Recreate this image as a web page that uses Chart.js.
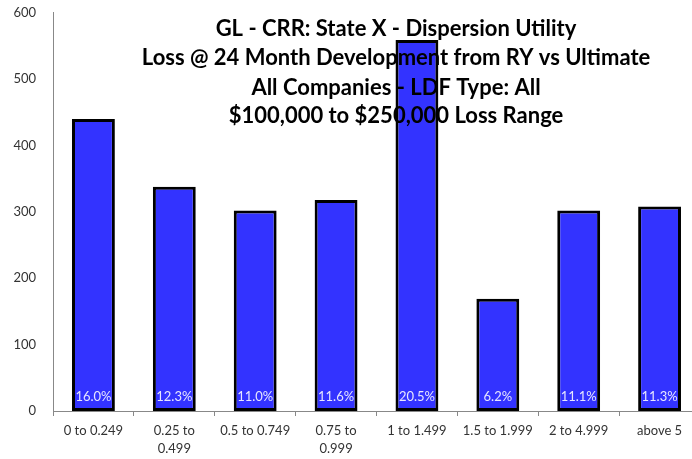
<!DOCTYPE html>
<html><head><meta charset="utf-8">
<script src="https://cdn.jsdelivr.net/npm/chart.js@4"></script>
<style>
html,body{margin:0;padding:0;overflow:hidden;background:#fff}
#wrap{width:700px;height:471px;position:absolute;top:-12px;left:0}
</style></head>
<body><div id="wrap"><canvas id="c"></canvas></div>
<script>
const categories = [['0 to 0.249'], ['0.25 to', '0.499'], ['0.5 to 0.749'], ['0.75 to', '0.999'], ['1 to 1.499'], ['1.5 to 1.999'], ['2 to 4.999'], ['above 5']];
const lossValues = [440, 338, 302, 318, 559, 169, 302, 308];
const shareLabels = ['16.0%', '12.3%', '11.0%', '11.6%', '20.5%', '6.2%', '11.1%', '11.3%'];
const titleLines = [
  'GL - CRR: State X - Dispersion Utility',
  'Loss @ 24 Month Development from RY vs Ultimate',
  'All Companies - LDF Type: All',
  '$100,000 to $250,000 Loss Range'
];
const yMin = 0, yMax = 600, yStep = 100;

const FONT = 'Lato, "Open Sans", sans-serif';

const shareLabelPlugin = {
  id: 'shareLabels',
  afterDatasetsDraw(chart) {
    const ctx = chart.ctx;
    const meta = chart.getDatasetMeta(0);
    const y0 = chart.scales.y.getPixelForValue(0);
    ctx.save();
    ctx.font = '13px ' + FONT;
    ctx.fillStyle = '#E6E6FF';
    ctx.textAlign = 'center';
    ctx.textBaseline = 'middle';
    meta.data.forEach((el, i) => {
      ctx.fillText(shareLabels[i], el.x, y0 - 14);
    });
    ctx.restore();
  }
};

const overlayTitlePlugin = {
  id: 'overlayTitle',
  afterDraw(chart) {
    const ctx = chart.ctx;
    ctx.save();
    ctx.font = 'bold 22px ' + FONT;
    ctx.fillStyle = '#000';
    ctx.textAlign = 'center';
    ctx.textBaseline = 'middle';
    const ys = [41, 70, 100, 128];
    titleLines.forEach((t, i) => ctx.fillText(t, 396, ys[i]));
    ctx.restore();
  }
};

new Chart(document.getElementById('c'), {
  type: 'bar',
  data: {
    labels: categories,
    datasets: [{
      data: lossValues,
      backgroundColor: '#3333FF',
      borderColor: '#000000',
      borderWidth: 3,
      borderSkipped: false,
      barPercentage: 0.53,
      categoryPercentage: 1.0
    }]
  },
  options: {
    responsive: true,
    maintainAspectRatio: false,
    animation: false,
    devicePixelRatio: 1,
    layout: { padding: { top: 1, right: 0, left: 0, bottom: 0 } },
    plugins: { legend: { display: false }, title: { display: false }, tooltip: { enabled: false } },
    scales: {
      y: {
        min: yMin, max: yMax,
        ticks: { stepSize: yStep, color: '#333333', font: { family: FONT, size: 13 }, padding: 17 },
        grid: { display: false, drawTicks: false },
        border: { display: true, color: '#888888', width: 1 },
        afterFit(s) { s.width = 53; }
      },
      x: {
        ticks: { color: '#333333', font: { family: FONT, size: 13, lineHeight: 1.4 }, padding: 6, maxRotation: 0, autoSkip: false },
        grid: { display: true, drawOnChartArea: false, offset: true, tickLength: 5, color: '#888888' },
        border: { display: true, color: '#888888', width: 1 },
        afterFit(s) { s.height = 48; }
      }
    }
  },
  plugins: [shareLabelPlugin, overlayTitlePlugin]
});
</script>
</body></html>
